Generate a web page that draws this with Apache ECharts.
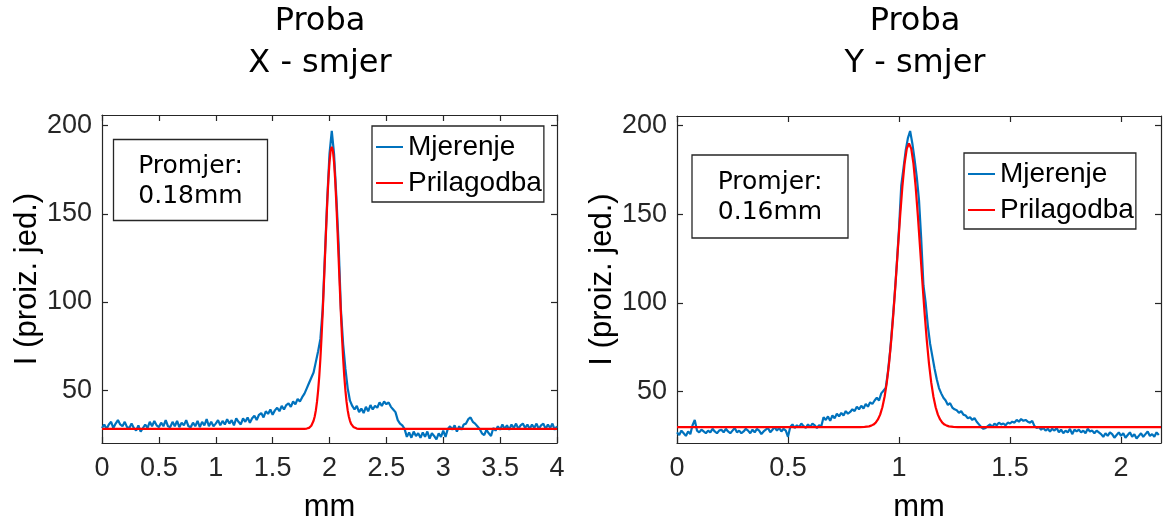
<!DOCTYPE html>
<html><head><meta charset="utf-8">
<script src="https://cdn.jsdelivr.net/npm/echarts@6/dist/echarts.min.js"></script>
<style>html,body{margin:0;padding:0;background:#fff}#c{width:1166px;height:528px}</style>
</head><body><div id="c"></div><script>
// ---------- data ----------
const titles = ['Proba\nX - smjer', 'Proba\nY - smjer'];
const boxTexts = ['Promjer:\n0.18mm', 'Promjer:\n0.16mm'];
const seriesNames = ['Mjerenje', 'Prilagodba'];
const xName = 'mm';
const yName = 'I (proiz. jed.)';
const xTicksLeft = [0, 0.5, 1, 1.5, 2, 2.5, 3, 3.5, 4];
const xTicksRight = [0, 0.5, 1, 1.5, 2];
const yTicks = [50, 100, 150, 200];

// Left panel, measurement: x starts at 0, step 0.02 mm
const leftMeasStart = 0, leftMeasStep = 0.02;
const leftMeas = [
 28.5, 30.5, 28, 30.5, 32, 28.5, 31, 33, 30.5, 29.5,
 32, 29, 28.5, 31, 28.5, 27, 30, 26.5, 28.5, 30.5,
 28.5, 32, 29.5, 32.5, 30, 29, 31.5, 29.5, 33, 29.5,
 29, 32, 29.5, 32.5, 29, 31.5, 30, 33, 29.5, 29,
 31.5, 29.5, 32.5, 29, 32, 30, 33.5, 29.5, 32, 29.5,
 31, 33, 30, 32.5, 30.5, 33.5, 31, 33, 30, 34,
 32, 30.5, 34, 32, 34.5, 31.5, 34, 35.5, 33, 36,
 37, 34.5, 38, 36.5, 39, 36, 38.5, 40, 38, 41,
 39, 41.5, 42.5, 40.5, 43.5, 42, 45, 43.5, 46, 48,
 51, 54, 57, 60, 66, 72, 79, 96, 127, 158,
 184, 197, 184, 160, 133, 96, 76, 62, 51, 44,
 41, 39, 41, 37.5, 39.5, 37, 40.5, 38, 41.5, 39,
 41, 40, 43, 41, 43.5, 42, 43, 40.5, 39, 37.5,
 33, 31, 30, 28, 23.5, 26, 23, 26.5, 24, 25.5,
 23, 26, 23.5, 26.5, 22.5, 25.5, 24, 22, 25.5, 23.5,
 27, 23.5, 28, 29.5, 27.5, 30, 26.5, 29.5, 27.5, 30.5,
 31, 33.5, 34.5, 32, 31, 29.5, 28, 25.5, 24.5, 27.5,
 25.5, 24, 28.5, 27, 29.5, 27.5, 30.5, 28, 30, 27.5,
 30.5, 28.5, 31, 28, 30, 31, 28.5, 30.5, 28, 30.5,
 28.5, 31, 28, 30, 31, 28, 30.5, 28.5, 31, 27.5, 29.5
];
// Left panel, fit
const leftFitX = [0, 1.76, 1.78, 1.80, 1.82, 1.83, 1.84, 1.85, 1.86, 1.87, 1.88, 1.89, 1.90, 1.91, 1.92, 1.93, 1.94, 1.95, 1.96, 1.97, 1.98, 1.99, 2.00, 2.01, 2.02,
 2.03, 2.04, 2.05, 2.06, 2.07, 2.08, 2.09, 2.10, 2.11, 2.12, 2.13, 2.14, 2.15, 2.16, 2.17, 2.18, 2.19, 2.20, 2.21, 2.22, 2.24, 2.26, 2.28, 4];
const leftFitY = [28, 28, 28.05, 28.2, 28.6, 29.1, 29.8, 30.9, 32.6, 35.0, 38.5, 43.3, 49.7, 57.8, 67.9, 80.0, 93.8, 109.0, 125.0, 141.1, 156.1, 169.2, 179.3, 185.8, 188,
 185.8, 179.3, 169.2, 156.1, 141.1, 125.0, 109.0, 93.8, 80.0, 67.9, 57.8, 49.7, 43.3, 38.5, 35.0, 32.6, 30.9, 29.8, 29.1, 28.6, 28.2, 28.05, 28, 28];

// Right panel, measurement: x starts at 0, step 0.01 mm
const rightMeasStart = 0, rightMeasStep = 0.01;
const rightMeas = [
 27, 25.5, 28, 26.5, 25, 27.5, 26, 31, 34, 28,
 27, 28.5, 27.5, 26.5, 28, 27, 29, 27.5, 26.5, 28,
 28.5, 27, 29, 27.5, 26.5, 28, 29.5, 27, 28, 26.5,
 27.5, 29, 28, 26.5, 28.5, 27, 29, 28, 26, 27.5,
 28.5, 29.5, 27, 28.5, 30, 28, 29.5, 27.5, 29, 28,
 24.5, 30, 31.5, 29.5, 31, 30, 32, 30.5, 29.5, 31.5,
 30, 32, 31, 29.5, 31, 30.5, 35.5, 34, 36, 33.5,
 36.5, 35, 37.5, 36, 38, 36.5, 39, 37.5, 38.5, 40,
 39, 41.5, 40, 42, 40.5, 43, 41.5, 44, 43, 45,
 46.5, 45, 49, 50.5, 52, 61, 73, 88, 104, 122,
 142, 166, 176, 186, 193, 197, 190, 181, 171, 158,
 136, 110, 100, 87, 77, 70, 63, 57, 52, 49,
 46.5, 45, 42.5, 43.5, 41, 40, 39.5, 38, 39, 37,
 36.5, 35, 35.5, 34, 35, 33, 31.5, 30, 29, 29.5,
 30.5, 31.5, 30, 32, 31, 32.5, 31.5, 32, 31, 32.5,
 32, 33, 32.5, 34, 33, 34.5, 33.5, 34, 33, 32.5,
 33.5, 30.5, 29.5, 30, 28.5, 29.5, 28, 29, 27.5, 29,
 28, 29.5, 27, 28.5, 26.5, 28, 27, 29, 26, 28.5,
 27.5, 28.5, 27, 28, 26.5, 29, 27.5, 28, 26.5, 28,
 27, 26, 24.5, 26.5, 25, 27, 26, 24, 25.5, 27,
 25, 26.5, 24, 25.5, 27, 24.5, 26, 23.5, 25, 26.5,
 24.5, 26, 27.5, 25, 26, 24.5, 27, 25.5
];
// Right panel, fit
const rightFitX = [0, 0.825, 0.845, 0.865, 0.875, 0.885, 0.895, 0.905, 0.915, 0.925, 0.935, 0.945, 0.955, 0.965, 0.975, 0.985, 0.995, 1.005, 1.015, 1.025, 1.035, 1.045,
 1.055, 1.065, 1.075, 1.085, 1.095, 1.105, 1.115, 1.125, 1.135, 1.145, 1.155, 1.165, 1.175, 1.185, 1.195, 1.205, 1.215, 1.225, 1.245, 1.265, 2.18];
const rightFitY = [30, 30, 30.1, 30.4, 30.8, 31.4, 32.5, 34.3, 37.0, 41.2, 47.1, 55.2, 65.8, 79.0, 94.7, 112.2, 130.8, 149.0, 165.5, 178.6, 187.1, 190,
 187.1, 178.6, 165.5, 149.0, 130.8, 112.2, 94.7, 79.0, 65.8, 55.2, 47.1, 41.2, 37.0, 34.3, 32.5, 31.4, 30.8, 30.4, 30.1, 30, 30];

// ---------- build ----------
const pairs = (xs, ys) => ys.map((v, i) => [xs[i], v]);
const gridded = (start, step, ys) => ys.map((v, i) => [+(start + i * step).toFixed(4), v]);

const AX = '#262626';
const TICKFONT = 27;
const sans = 'Liberation Sans, Arial, sans-serif';
const dejavu = 'DejaVu Sans, Verdana, sans-serif';

function xPair(grid, max, ticks) {
  const common = {
    gridIndex: grid, type: 'value', min: 0, max: max,
    splitLine: { show: false },
    axisLine: { show: true, onZero: false, lineStyle: { color: AX, width: 1.2 } },
    axisTick: { show: true, inside: true, length: 6, customValues: ticks, lineStyle: { color: AX, width: 1.2 } }
  };
  return [
    Object.assign({}, common, {
      position: 'bottom',
      axisLabel: { show: true, customValues: ticks, color: AX, fontSize: TICKFONT, fontFamily: sans, margin: 12 },
      name: xName, nameLocation: 'middle', nameGap: 49,
      nameTextStyle: { color: '#000', fontSize: 31, fontFamily: sans }
    }),
    Object.assign({}, common, { position: 'top', axisLabel: { show: false } })
  ];
}
function yPair(grid, min, max) {
  const common = {
    gridIndex: grid, type: 'value', min: min, max: max,
    splitLine: { show: false },
    axisLine: { show: true, onZero: false, lineStyle: { color: AX, width: 1.2 } },
    axisTick: { show: true, inside: true, length: 6, customValues: yTicks, lineStyle: { color: AX, width: 1.2 } }
  };
  return [
    Object.assign({}, common, {
      position: 'left',
      axisLabel: { show: true, customValues: yTicks, color: AX, fontSize: TICKFONT, fontFamily: sans, margin: 10 },
      name: yName, nameLocation: 'middle', nameRotate: 90, nameGap: 58,
      nameTextStyle: { color: '#000', fontSize: 31, fontFamily: sans }
    }),
    Object.assign({}, common, { position: 'right', axisLabel: { show: false } })
  ];
}
function legendAt(left, top) {
  return {
    data: seriesNames, orient: 'vertical', left: left, top: top,
    icon: 'rect', padding: [7, 2, 5, 4], itemGap: 8, itemWidth: 27, itemHeight: 2,
    borderColor: AX, borderWidth: 1.3, backgroundColor: '#fff', borderRadius: 0,
    textStyle: { fontSize: 28, fontFamily: sans, color: '#000', lineHeight: 28 },
    selectedMode: false, z: 10
  };
}
function textBox(x, y, w, h, txt) {
  return {
    type: 'group', z: 100,
    children: [
      { type: 'rect', shape: { x: x, y: y, width: w, height: h }, style: { fill: '#fff', stroke: AX, lineWidth: 1.3 } },
      { type: 'text', x: x + w / 2, y: y + h / 2 + 1, style: { text: txt, fill: '#000', fontSize: 25, fontFamily: dejavu, align: 'center', verticalAlign: 'middle', lineHeight: 30 } }
    ]
  };
}

const blue = '#0072BD', red = '#FF0000';
function lineSeries(name, data, xi, yi, color, z) {
  return { type: 'line', name: name, data: data, xAxisIndex: xi, yAxisIndex: yi, symbol: 'none', showSymbol: false,
    lineStyle: { color: color, width: 2.2 }, itemStyle: { color: color }, z: z, clip: true };
}

const option = {
  animation: false,
  backgroundColor: '#fff',
  title: [
    { text: titles[0], left: 320, top: 1, textAlign: 'center', padding: 0,
      textStyle: { fontFamily: dejavu, fontSize: 32, fontWeight: 'normal', lineHeight: 42, color: '#000' } },
    { text: titles[1], left: 915, top: 1, textAlign: 'center', padding: 0,
      textStyle: { fontFamily: dejavu, fontSize: 32, fontWeight: 'normal', lineHeight: 42, color: '#000' } }
  ],
  grid: [
    { left: 102, top: 115, width: 455, height: 332 },
    { left: 677, top: 116, width: 484, height: 332 }
  ],
  xAxis: [].concat(xPair(0, 4, xTicksLeft), xPair(1, 2.18, xTicksRight)),
  yAxis: [].concat(yPair(0, 20, 206), yPair(1, 21, 205.5)),
  legend: [legendAt(372, 126), legendAt(964, 153)],
  graphic: [
    textBox(113.5, 139.5, 154, 81, boxTexts[0]),
    textBox(692, 155, 156, 83, boxTexts[1])
  ],
  series: [
    lineSeries(seriesNames[0], gridded(leftMeasStart, leftMeasStep, leftMeas), 0, 0, blue, 2),
    lineSeries(seriesNames[1], pairs(leftFitX, leftFitY), 0, 0, red, 3),
    lineSeries(seriesNames[0], gridded(rightMeasStart, rightMeasStep, rightMeas), 2, 2, blue, 2),
    lineSeries(seriesNames[1], pairs(rightFitX, rightFitY), 2, 2, red, 3)
  ]
};
const chart = echarts.init(document.getElementById('c'), null, { renderer: 'canvas' });
chart.setOption(option);
</script></body></html>
